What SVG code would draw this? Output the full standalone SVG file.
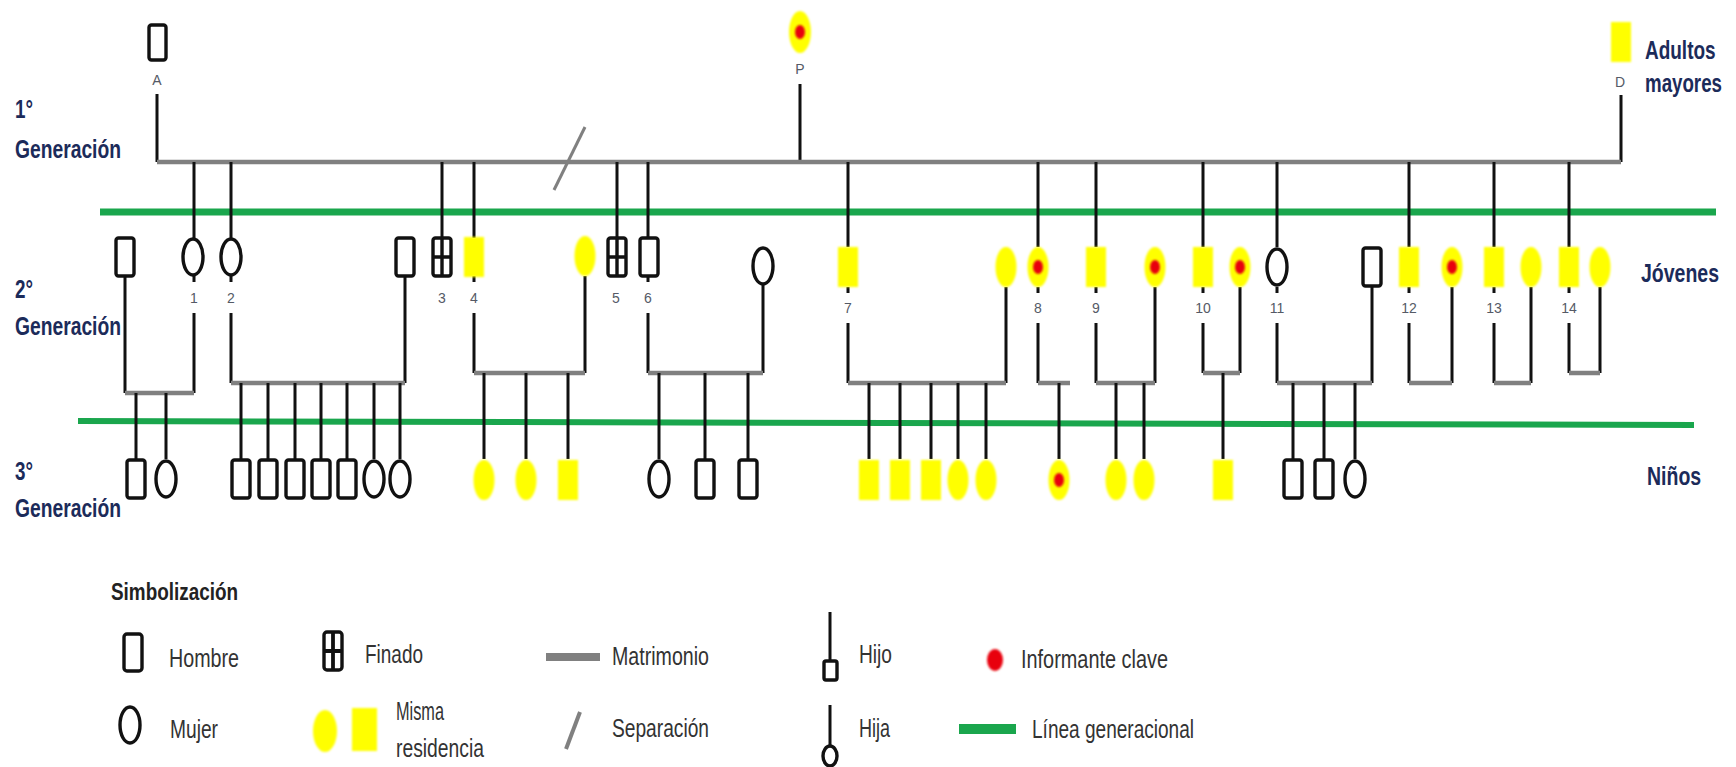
<svg xmlns="http://www.w3.org/2000/svg" xmlns:xlink="http://www.w3.org/1999/xlink" width="1736" height="767" viewBox="0 0 1736 767">
<style>
.ln{stroke:#111;stroke-width:3;fill:none}
.mar{stroke:#808080;stroke-width:4.5;fill:none}
.gen{stroke:#1aa64d;fill:none}
.ol{fill:#fff;stroke:#111;stroke-width:3.4}
.yl{fill:#ffff00;filter:url(#soft)}
.rd{fill:#e8000b;filter:url(#soft)}
.hd{font-family:"Liberation Sans",Arial,sans-serif;font-weight:bold;fill:#1c2b5a;font-size:26px}
.num{font-family:"Liberation Sans",Arial,sans-serif;fill:#555a66;font-size:14px;text-anchor:middle}
.lg{font-family:"Liberation Sans",Arial,sans-serif;fill:#333;font-size:26px}
.lgh{font-family:"Liberation Sans",Arial,sans-serif;font-weight:bold;fill:#222;font-size:23px}
</style>
<defs>
<filter id="soft" x="-40%" y="-40%" width="180%" height="180%"><feGaussianBlur stdDeviation="1.3"/></filter>
<g id="m"><rect x="-9" y="-19" width="18" height="38" rx="2.5" class="ol"/></g>
<g id="f"><ellipse rx="10" ry="18" class="ol"/></g>
<g id="d"><rect x="-9" y="-19" width="18" height="38" rx="2.5" class="ol"/><path d="M0-19V19M-9 0H9" stroke="#111" stroke-width="3.4"/></g>
<g id="yr"><rect x="-10" y="-20" width="20" height="40" class="yl"/></g>
<g id="ye"><ellipse rx="10.5" ry="20" class="yl"/></g>
<g id="yek"><ellipse rx="10.5" ry="20" class="yl"/><ellipse rx="5" ry="7" class="rd"/></g>
</defs>
<rect width="1736" height="767" fill="#fff"/>

<!-- generation lines -->
<g id="generation-lines">
<path class="gen" stroke-width="7" d="M100 212H1716"/>
<path class="gen" stroke-width="6" d="M78 421L1694 425"/>
</g>

<!-- connectors -->
<g id="connectors">
<path class="ln" d="M157 94V162M800 84V162M1621 95V162"/>
<path class="mar" stroke-width="5" d="M157 162H1621"/>
<path stroke="#808080" stroke-width="3" d="M554 190L585 127"/>
<path class="ln" d="M194 162V238M231 162V238M442 162V238M474 162V238M617 162V238M648 162V238M848 162V247M1038 162V247M1096 162V247M1203 162V247M1277 162V247M1409 162V247M1494 162V247M1569 162V247"/>
<path class="ln" d="M194 276V282M194 313V393M231 276V282M231 313V383M474 276V282M474 313V373M648 276V282M648 313V373"/>
<path class="ln" d="M125 276V393M405 276V383M585 276V373"/>
<path class="ln" d="M848 287V293M848 323V383M1038 287V293M1038 323V383M1096 287V293M1096 323V383M1203 287V293M1203 323V373M1277 287V293M1277 323V383M1409 287V293M1409 323V383M1494 287V293M1494 323V383M1569 287V293M1569 323V373"/>
<path class="ln" d="M763 285V373M1006 287V383M1155 287V383M1240 287V373M1372 287V383M1452 287V383M1531 287V383M1600 287V373"/>
<path class="mar" d="M125 393H194M231 383H405M474 373H585M648 373H763M848 383H1006M1038 383H1070M1096 383H1155M1203 373H1240M1277 383H1372M1409 383H1452M1494 383H1531M1569 373H1600"/>
<path class="ln" d="M136 393V459M166 393V459M241 383V459M268 383V459M295 383V459M321 383V459M347 383V459M374 383V459M400 383V459M484 373V459M526 373V459M568 373V459M659 373V459M705 373V459M748 373V459M869 383V459M900 383V459M931 383V459M958 383V459M986 383V459M1059 383V459M1116 383V459M1144 383V459M1223 373V459M1293 383V459M1324 383V459M1355 383V459"/>
</g>

<!-- generation 1 -->
<g id="node-A"><rect x="149" y="25" width="17" height="35" rx="2.5" class="ol"/><text class="num" x="157" y="85" font-size="12">A</text></g>
<g id="node-P"><ellipse cx="800" cy="32" rx="11" ry="21" class="yl"/><ellipse cx="800" cy="32" rx="5" ry="7" class="rd"/><text class="num" x="800" y="74" font-size="12">P</text></g>
<g id="node-D"><rect x="1611" y="22" width="20" height="40" class="yl"/><text class="num" x="1620" y="87" font-size="12">D</text></g>

<!-- generation 2 -->
<g id="node-1s"><use href="#m" x="125" y="257"/></g>
<g id="node-1"><use href="#f" x="193" y="257"/><text class="num" x="194" y="303">1</text></g>
<g id="node-2"><use href="#f" x="231" y="257"/><text class="num" x="231" y="303">2</text></g>
<g id="node-2s"><use href="#m" x="405" y="257"/></g>
<g id="node-3"><use href="#d" x="442" y="257"/><text class="num" x="442" y="303">3</text></g>
<g id="node-4"><use href="#yr" x="474" y="257"/><text class="num" x="474" y="303">4</text></g>
<g id="node-4s"><use href="#ye" x="585" y="256"/></g>
<g id="node-5"><use href="#d" x="617" y="257"/><text class="num" x="616" y="303">5</text></g>
<g id="node-6"><use href="#m" x="649" y="257"/><text class="num" x="648" y="303">6</text></g>
<g id="node-6s"><use href="#f" x="763" y="266"/></g>
<g id="node-7"><use href="#yr" x="848" y="267"/><text class="num" x="848" y="313">7</text></g>
<g id="node-7s"><use href="#ye" x="1006" y="267"/></g>
<g id="node-8"><use href="#yek" x="1038" y="267"/><text class="num" x="1038" y="313">8</text></g>
<g id="node-9"><use href="#yr" x="1096" y="267"/><text class="num" x="1096" y="313">9</text></g>
<g id="node-9s"><use href="#yek" x="1155" y="267"/></g>
<g id="node-10"><use href="#yr" x="1203" y="267"/><text class="num" x="1203" y="313">10</text></g>
<g id="node-10s"><use href="#yek" x="1240" y="267"/></g>
<g id="node-11"><use href="#f" x="1277" y="267"/><text class="num" x="1277" y="313">11</text></g>
<g id="node-11s"><use href="#m" x="1372" y="267"/></g>
<g id="node-12"><use href="#yr" x="1409" y="267"/><text class="num" x="1409" y="313">12</text></g>
<g id="node-12s"><use href="#yek" x="1452" y="267"/></g>
<g id="node-13"><use href="#yr" x="1494" y="267"/><text class="num" x="1494" y="313">13</text></g>
<g id="node-13s"><use href="#ye" x="1531" y="267"/></g>
<g id="node-14"><use href="#yr" x="1569" y="267"/><text class="num" x="1569" y="313">14</text></g>
<g id="node-14s"><use href="#ye" x="1600" y="267"/></g>

<!-- generation 3 -->
<g id="node-1a"><use href="#m" x="136" y="479"/></g>
<g id="node-1b"><use href="#f" x="166" y="479"/></g>
<g id="node-2a"><use href="#m" x="241" y="479"/></g>
<g id="node-2b"><use href="#m" x="268" y="479"/></g>
<g id="node-2c"><use href="#m" x="295" y="479"/></g>
<g id="node-2d"><use href="#m" x="321" y="479"/></g>
<g id="node-2e"><use href="#m" x="347" y="479"/></g>
<g id="node-2f"><use href="#f" x="374" y="479"/></g>
<g id="node-2g"><use href="#f" x="400" y="479"/></g>
<g id="node-4a"><use href="#ye" x="484" y="480"/></g>
<g id="node-4b"><use href="#ye" x="526" y="480"/></g>
<g id="node-4c"><use href="#yr" x="568" y="480"/></g>
<g id="node-6a"><use href="#f" x="659" y="479"/></g>
<g id="node-6b"><use href="#m" x="705" y="479"/></g>
<g id="node-6c"><use href="#m" x="748" y="479"/></g>
<g id="node-7a"><use href="#yr" x="869" y="480"/></g>
<g id="node-7b"><use href="#yr" x="900" y="480"/></g>
<g id="node-7c"><use href="#yr" x="931" y="480"/></g>
<g id="node-7d"><use href="#ye" x="958" y="480"/></g>
<g id="node-7e"><use href="#ye" x="986" y="480"/></g>
<g id="node-8a"><use href="#yek" x="1059" y="480"/></g>
<g id="node-9a"><use href="#ye" x="1116" y="480"/></g>
<g id="node-9b"><use href="#ye" x="1144" y="480"/></g>
<g id="node-10a"><use href="#yr" x="1223" y="480"/></g>
<g id="node-11a"><use href="#m" x="1293" y="479"/></g>
<g id="node-11b"><use href="#m" x="1324" y="479"/></g>
<g id="node-11c"><use href="#f" x="1355" y="479"/></g>

<!-- side labels -->
<g id="labels">
<text class="hd" x="15" y="118" textLength="18" lengthAdjust="spacingAndGlyphs">1°</text>
<text class="hd" x="15" y="158" textLength="106" lengthAdjust="spacingAndGlyphs">Generación</text>
<text class="hd" x="15" y="298" textLength="18" lengthAdjust="spacingAndGlyphs">2°</text>
<text class="hd" x="15" y="335" textLength="106" lengthAdjust="spacingAndGlyphs">Generación</text>
<text class="hd" x="15" y="480" textLength="18" lengthAdjust="spacingAndGlyphs">3°</text>
<text class="hd" x="15" y="517" textLength="106" lengthAdjust="spacingAndGlyphs">Generación</text>
<text class="hd" transform="translate(1645 59) scale(0.73 1)">Adultos</text>
<text class="hd" transform="translate(1645 92) scale(0.72 1)">mayores</text>
<text class="hd" transform="translate(1641 282) scale(0.75 1)">Jóvenes</text>
<text class="hd" transform="translate(1647 485) scale(0.75 1)">Niños</text>
</g>

<!-- legend -->
<g id="legend">
<text class="lgh" x="111" y="600" textLength="127" lengthAdjust="spacingAndGlyphs">Simbolización</text>
<g id="leg-hombre"><rect x="124" y="634" width="18" height="37" rx="3" class="ol" stroke-width="3.8"/><text class="lg" x="169" y="667" textLength="70" lengthAdjust="spacingAndGlyphs">Hombre</text></g>
<g id="leg-mujer"><ellipse cx="130" cy="725" rx="10" ry="18" class="ol" stroke-width="3.8"/><text class="lg" x="170" y="738" textLength="48" lengthAdjust="spacingAndGlyphs">Mujer</text></g>
<g id="leg-finado"><rect x="324" y="632" width="18" height="38" rx="3" class="ol" stroke-width="3.8"/><path d="M333 632V670M324 651H342" stroke="#111" stroke-width="3.8"/><text class="lg" x="365" y="663" textLength="58" lengthAdjust="spacingAndGlyphs">Finado</text></g>
<g id="leg-misma"><ellipse cx="325" cy="731" rx="12" ry="21" class="yl"/><rect x="352" y="708" width="25" height="43" class="yl"/><text class="lg" x="396" y="720" textLength="48" lengthAdjust="spacingAndGlyphs">Misma</text><text class="lg" x="396" y="757" textLength="88" lengthAdjust="spacingAndGlyphs">residencia</text></g>
<g id="leg-matrimonio"><path d="M546 657H600" stroke="#808080" stroke-width="8"/><text class="lg" x="612" y="665" textLength="97" lengthAdjust="spacingAndGlyphs">Matrimonio</text></g>
<g id="leg-separacion"><path d="M566 749L580 712" stroke="#808080" stroke-width="4"/><text class="lg" x="612" y="737" textLength="97" lengthAdjust="spacingAndGlyphs">Separación</text></g>
<g id="leg-hijo"><path d="M830 612V661" class="ln" stroke-width="2.5"/><rect x="824" y="661" width="13" height="19" rx="2" class="ol" stroke-width="2.5"/><text class="lg" x="859" y="663" textLength="33" lengthAdjust="spacingAndGlyphs">Hijo</text></g>
<g id="leg-hija"><path d="M830 705V746" class="ln" stroke-width="2.5"/><ellipse cx="830" cy="756" rx="7" ry="10" class="ol" stroke-width="2.5"/><text class="lg" x="859" y="737" textLength="31" lengthAdjust="spacingAndGlyphs">Hija</text></g>
<g id="leg-informante"><ellipse cx="995" cy="660" rx="8" ry="11" class="rd"/><text class="lg" x="1021" y="668" textLength="147" lengthAdjust="spacingAndGlyphs">Informante clave</text></g>
<g id="leg-linea"><path d="M959 729H1016" stroke="#1aa64d" stroke-width="10"/><text class="lg" x="1032" y="738" textLength="162" lengthAdjust="spacingAndGlyphs">Línea generacional</text></g>
</g>
</svg>
